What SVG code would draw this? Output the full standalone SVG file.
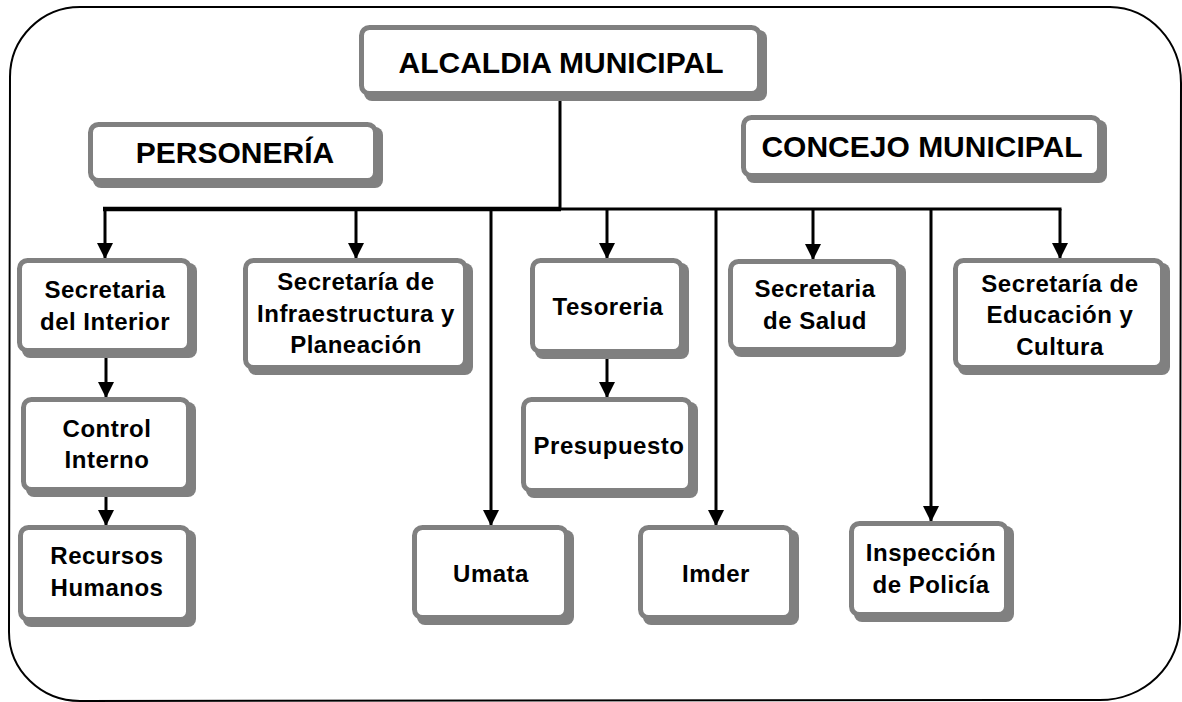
<svg xmlns="http://www.w3.org/2000/svg" width="1182" height="702" viewBox="0 0 1182 702">
<defs>
<style>
.frame{fill:none;stroke:#000;stroke-width:2}
.sh{fill:#808080}
.bx{fill:#fff;stroke:#808080;stroke-width:5}
.t{font-family:"Liberation Sans",Arial,sans-serif;font-weight:bold;font-size:24px;letter-spacing:0.5px;text-anchor:middle;fill:#000}
.T{font-family:"Liberation Sans",Arial,sans-serif;font-weight:bold;font-size:30px;text-anchor:middle;fill:#000}
.ln{fill:none;stroke:#000;stroke-width:3}
.arr{fill:none;stroke:#000;stroke-width:3;marker-end:url(#ah)}
</style>
<marker id="ah" markerUnits="userSpaceOnUse" markerWidth="16" markerHeight="16" refX="16" refY="8" orient="auto" viewBox="0 0 16 16">
<path d="M0,0 L16,8 L0,16 z" fill="#000"/>
</marker>
</defs>
<rect width="1182" height="702" fill="#fff"/>
<path class="frame" d="M80,7 L1110,7 A72,76 0 0 1 1181,83 L1180,623 A80,77 0 0 1 1100,700 L80,701 A71,69 0 0 1 9,632 L10,77 A70,70 0 0 1 80,7 Z"/>

<g id="connectors">
<line class="ln" x1="560" y1="98" x2="560" y2="210"/>
<line x1="103" y1="209" x2="561" y2="209" stroke="#000" stroke-width="4.5"/>
<line class="ln" x1="560" y1="209" x2="1061.5" y2="209"/>
<line class="arr" x1="105" y1="209" x2="105" y2="259"/>
<line class="arr" x1="356" y1="209" x2="356" y2="259"/>
<line class="arr" x1="491" y1="209" x2="491" y2="526"/>
<line class="arr" x1="607" y1="209" x2="607" y2="259"/>
<line class="arr" x1="716" y1="209" x2="716" y2="526"/>
<line class="arr" x1="813" y1="209" x2="813" y2="260"/>
<line class="arr" x1="931" y1="209" x2="931" y2="522"/>
<line class="arr" x1="1060" y1="209" x2="1060" y2="259"/>
<line class="arr" x1="106" y1="353" x2="106" y2="398"/>
<line class="arr" x1="106" y1="492" x2="106" y2="526"/>
<line class="arr" x1="607" y1="354" x2="607" y2="398"/>
</g>

<g id="alcaldia"><rect class="sh" x="364" y="30" width="403" height="71" rx="8"/><rect class="bx" x="361.5" y="27.5" width="398" height="66" rx="8"/><text class="T" x="561" y="73">ALCALDIA MUNICIPAL</text></g>
<g id="personeria"><rect class="sh" x="93" y="127" width="290" height="61" rx="8"/><rect class="bx" x="90.5" y="124.5" width="285" height="56" rx="8"/><text class="T" x="235" y="163">PERSONERÍA</text></g>
<g id="concejo"><rect class="sh" x="746" y="120" width="361" height="63" rx="8"/><rect class="bx" x="743.5" y="117.5" width="356" height="58" rx="8"/><text class="T" x="922" y="157">CONCEJO MUNICIPAL</text></g>
<g id="interior"><rect class="sh" x="22" y="263" width="175" height="95" rx="8"/><rect class="bx" x="19.5" y="260.5" width="170" height="90" rx="8"/><text class="t" x="105" y="298">Secretaria</text><text class="t" x="105" y="330">del Interior</text></g>
<g id="infraestructura"><rect class="sh" x="248" y="263" width="225" height="112" rx="8"/><rect class="bx" x="245.5" y="260.5" width="220" height="107" rx="8"/><text class="t" x="356" y="290">Secretaría de</text><text class="t" x="356" y="322">Infraestructura y</text><text class="t" x="356" y="353">Planeación</text></g>
<g id="tesoreria"><rect class="sh" x="535" y="263" width="154" height="96" rx="8"/><rect class="bx" x="532.5" y="260.5" width="149" height="91" rx="8"/><text class="t" x="608" y="315">Tesoreria</text></g>
<g id="salud"><rect class="sh" x="733" y="264" width="173" height="93" rx="8"/><rect class="bx" x="730.5" y="261.5" width="168" height="88" rx="8"/><text class="t" x="815" y="297">Secretaria</text><text class="t" x="815" y="329">de Salud</text></g>
<g id="educacion"><rect class="sh" x="958" y="263" width="212" height="112" rx="8"/><rect class="bx" x="955.5" y="260.5" width="207" height="107" rx="8"/><text class="t" x="1060" y="292">Secretaría de</text><text class="t" x="1060" y="323">Educación y</text><text class="t" x="1060" y="355">Cultura</text></g>
<g id="control"><rect class="sh" x="26" y="402" width="170" height="95" rx="8"/><rect class="bx" x="23.5" y="399.5" width="165" height="90" rx="8"/><text class="t" x="107" y="437">Control</text><text class="t" x="107" y="468">Interno</text></g>
<g id="presupuesto"><rect class="sh" x="526" y="402" width="172" height="96" rx="8"/><rect class="bx" x="523.5" y="399.5" width="167" height="91" rx="8"/><text class="t" x="609" y="454">Presupuesto</text></g>
<g id="recursos"><rect class="sh" x="23" y="530" width="173" height="97" rx="8"/><rect class="bx" x="20.5" y="527.5" width="168" height="92" rx="8"/><text class="t" x="107" y="564">Recursos</text><text class="t" x="107" y="596">Humanos</text></g>
<g id="umata"><rect class="sh" x="417" y="530" width="157" height="95" rx="8"/><rect class="bx" x="414.5" y="527.5" width="152" height="90" rx="8"/><text class="t" x="491" y="582">Umata</text></g>
<g id="imder"><rect class="sh" x="643" y="530" width="156" height="95" rx="8"/><rect class="bx" x="640.5" y="527.5" width="151" height="90" rx="8"/><text class="t" x="716" y="582">Imder</text></g>
<g id="inspeccion"><rect class="sh" x="854" y="526" width="160" height="96" rx="8"/><rect class="bx" x="851.5" y="523.5" width="155" height="91" rx="8"/><text class="t" x="931" y="561">Inspección</text><text class="t" x="931" y="593">de Policía</text></g>
</svg>
